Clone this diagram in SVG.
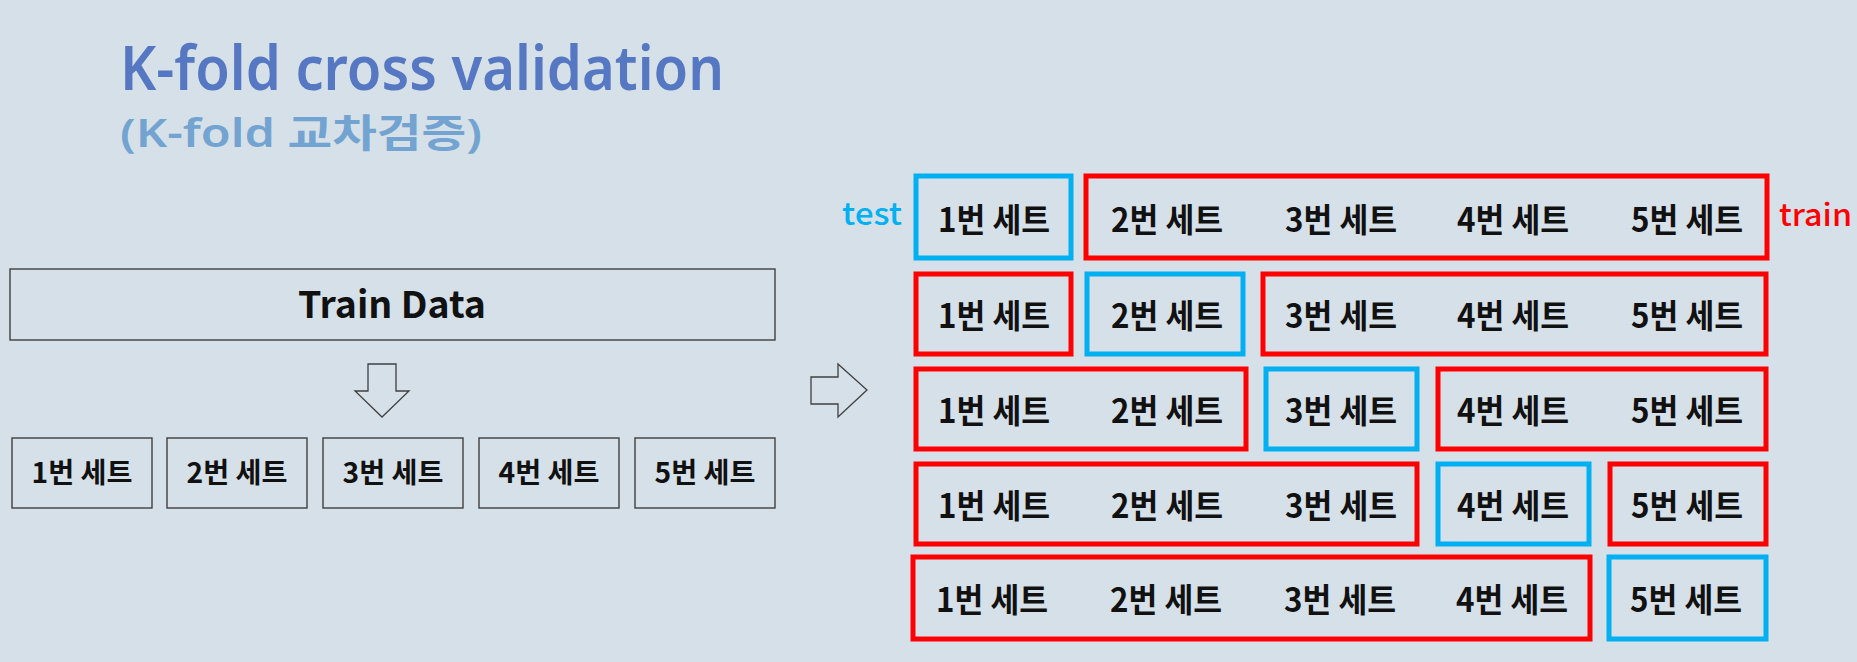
<svg xmlns="http://www.w3.org/2000/svg" width="1857" height="662" viewBox="0 0 1857 662">
<style>
.bg{fill:#D6E0E8}
.box{fill:none;stroke:#404040;stroke-width:1.4}
.arrow{fill:#D6E0E8;stroke:#404040;stroke-width:1.3;stroke-linejoin:miter}
.red{fill:none;stroke:#FF0000;stroke-width:5}
.blue{fill:none;stroke:#00B0F0;stroke-width:5}
.t{font-family:"Noto Sans CJK KR","Noto Sans",sans-serif;font-weight:700;fill:#111;text-anchor:middle}
.s{font-size:28px}
.g{font-size:33px}
</style>
<rect class="bg" x="0" y="0" width="1857" height="662"/>
<g id="title">
<text x="120" y="90" font-family="'Noto Sans','Noto Sans CJK KR',sans-serif" font-weight="600" font-size="61" fill="#5677C1" textLength="604" lengthAdjust="spacingAndGlyphs">K-fold cross validation</text>
<text x="120" y="147" font-family="'Noto Sans','Noto Sans CJK KR',sans-serif" font-weight="600" font-size="39" fill="#73A3D0" textLength="362" lengthAdjust="spacingAndGlyphs">(K-fold 교차검증)</text>
</g>
<g id="train-data">
<rect class="box" x="10" y="269" width="765" height="71"/>
<text class="t" x="392" y="318" font-size="37" font-weight="500" textLength="188" lengthAdjust="spacingAndGlyphs">Train Data</text>
</g>
<g id="connectors">
<path class="arrow" d="M368,364 H396 V391 H409 L382,417 L355,391 H368 Z"/>
<path class="arrow" d="M811,377 H838 V364 L867,390 L838,417 V404 H811 Z"/>
</g>
<g id="sets">
<rect class="box" x="12" y="438" width="140" height="70"/><text class="t s" x="82" y="483" textLength="101" lengthAdjust="spacingAndGlyphs">1번 세트</text>
<rect class="box" x="167" y="438" width="140" height="70"/><text class="t s" x="237" y="483" textLength="101" lengthAdjust="spacingAndGlyphs">2번 세트</text>
<rect class="box" x="323" y="438" width="140" height="70"/><text class="t s" x="393" y="483" textLength="101" lengthAdjust="spacingAndGlyphs">3번 세트</text>
<rect class="box" x="479" y="438" width="140" height="70"/><text class="t s" x="549" y="483" textLength="101" lengthAdjust="spacingAndGlyphs">4번 세트</text>
<rect class="box" x="635" y="438" width="140" height="70"/><text class="t s" x="705" y="483" textLength="101" lengthAdjust="spacingAndGlyphs">5번 세트</text>
</g>
<g id="labels">
<text x="842" y="225" font-family="'Noto Sans CJK KR','Noto Sans',sans-serif" font-weight="500" font-size="31" fill="#00B0F0" textLength="60" lengthAdjust="spacingAndGlyphs">test</text>
<text x="1779" y="226" font-family="'Noto Sans CJK KR','Noto Sans',sans-serif" font-weight="500" font-size="31" fill="#FF0000" textLength="73" lengthAdjust="spacingAndGlyphs">train</text>
</g>
<g id="fold1">
<rect class="blue" x="916" y="176" width="155" height="82"/>
<rect class="red" x="1086" y="176" width="681" height="82"/>
<text class="t g" x="994" y="232" textLength="112" lengthAdjust="spacingAndGlyphs">1번 세트</text>
<text class="t g" x="1167" y="232" textLength="112" lengthAdjust="spacingAndGlyphs">2번 세트</text>
<text class="t g" x="1341" y="232" textLength="112" lengthAdjust="spacingAndGlyphs">3번 세트</text>
<text class="t g" x="1513" y="232" textLength="112" lengthAdjust="spacingAndGlyphs">4번 세트</text>
<text class="t g" x="1687" y="232" textLength="112" lengthAdjust="spacingAndGlyphs">5번 세트</text>
</g>
<g id="fold2">
<rect class="red" x="916" y="274" width="155" height="80"/>
<rect class="blue" x="1087" y="274" width="156" height="80"/>
<rect class="red" x="1263" y="274" width="503" height="80"/>
<text class="t g" x="994" y="328" textLength="112" lengthAdjust="spacingAndGlyphs">1번 세트</text>
<text class="t g" x="1167" y="328" textLength="112" lengthAdjust="spacingAndGlyphs">2번 세트</text>
<text class="t g" x="1341" y="328" textLength="112" lengthAdjust="spacingAndGlyphs">3번 세트</text>
<text class="t g" x="1513" y="328" textLength="112" lengthAdjust="spacingAndGlyphs">4번 세트</text>
<text class="t g" x="1687" y="328" textLength="112" lengthAdjust="spacingAndGlyphs">5번 세트</text>
</g>
<g id="fold3">
<rect class="red" x="916" y="369" width="330" height="80"/>
<rect class="blue" x="1266" y="369" width="151" height="80"/>
<rect class="red" x="1438" y="369" width="328" height="80"/>
<text class="t g" x="994" y="423" textLength="112" lengthAdjust="spacingAndGlyphs">1번 세트</text>
<text class="t g" x="1167" y="423" textLength="112" lengthAdjust="spacingAndGlyphs">2번 세트</text>
<text class="t g" x="1341" y="423" textLength="112" lengthAdjust="spacingAndGlyphs">3번 세트</text>
<text class="t g" x="1513" y="423" textLength="112" lengthAdjust="spacingAndGlyphs">4번 세트</text>
<text class="t g" x="1687" y="423" textLength="112" lengthAdjust="spacingAndGlyphs">5번 세트</text>
</g>
<g id="fold4">
<rect class="red" x="916" y="464" width="501" height="80"/>
<rect class="blue" x="1438" y="464" width="151" height="80"/>
<rect class="red" x="1610" y="464" width="156" height="80"/>
<text class="t g" x="994" y="518" textLength="112" lengthAdjust="spacingAndGlyphs">1번 세트</text>
<text class="t g" x="1167" y="518" textLength="112" lengthAdjust="spacingAndGlyphs">2번 세트</text>
<text class="t g" x="1341" y="518" textLength="112" lengthAdjust="spacingAndGlyphs">3번 세트</text>
<text class="t g" x="1513" y="518" textLength="112" lengthAdjust="spacingAndGlyphs">4번 세트</text>
<text class="t g" x="1687" y="518" textLength="112" lengthAdjust="spacingAndGlyphs">5번 세트</text>
</g>
<g id="fold5">
<rect class="red" x="913" y="557" width="677" height="82"/>
<rect class="blue" x="1609" y="557" width="157" height="82"/>
<text class="t g" x="992" y="612" textLength="112" lengthAdjust="spacingAndGlyphs">1번 세트</text>
<text class="t g" x="1166" y="612" textLength="112" lengthAdjust="spacingAndGlyphs">2번 세트</text>
<text class="t g" x="1340" y="612" textLength="112" lengthAdjust="spacingAndGlyphs">3번 세트</text>
<text class="t g" x="1512" y="612" textLength="112" lengthAdjust="spacingAndGlyphs">4번 세트</text>
<text class="t g" x="1686" y="612" textLength="112" lengthAdjust="spacingAndGlyphs">5번 세트</text>
</g>
</svg>
